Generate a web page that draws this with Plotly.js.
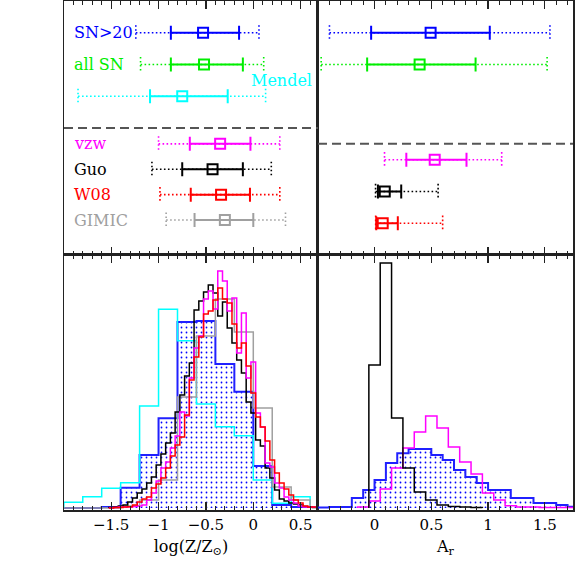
<!DOCTYPE html>
<html>
<head>
<meta charset="utf-8">
<script src="https://cdn.plot.ly/plotly-3.0.1.min.js"></script>
<style>
  html, body { margin: 0; padding: 0; background: #fff; }
  #chart { width: 575px; height: 575px; }
</style>
</head>
<body>
<div id="chart"></div>
<script>
// Data

// Top-left: metallicity summaries (median, 68% and 95% ranges)
const zLabels = ["SN>20", "all SN", "Mendel", "vzw", "Guo", "W08", "GIMIC"];
const zColors = ["#0000ff", "#00ee00", "#00ffff", "#ff00ff", "#000000", "#ff0000", "#a0a0a0"];
const zRows = [1, 2, 3, 4.5, 5.3, 6.1, 6.9];
const zMedian = [-0.53, -0.52, -0.75, -0.35, -0.43, -0.34, -0.3];
const zLo68 = [-0.87, -0.87, -1.09, -0.67, -0.75, -0.66, -0.62];
const zHi68 = [-0.15, -0.11, -0.27, -0.03, -0.11, -0.035, 0.0];
const zLo95 = [-1.24, -1.19, -1.85, -1.0, -1.07, -0.985, -0.92];
const zHi95 = [0.06, 0.11, 0.13, 0.28, 0.19, 0.28, 0.34];
const zSplitRow = 4;

// Top-right: A_r summaries
const aColors = ["#0000ff", "#00ee00", "#ff00ff", "#000000", "#ff0000"];
const aRows = [1, 2, 5, 6, 7];
const aMedian = [0.494, 0.397, 0.53, 0.09, 0.072];
const aLo68 = [-0.03, -0.065, 0.28, 0.03, 0.015];
const aHi68 = [1.015, 0.89, 0.81, 0.235, 0.205];
const aLo95 = [-0.397, -0.47, 0.088, 0.009, 0.01];
const aHi95 = [1.545, 1.52, 1.12, 0.56, 0.6];
const aSplitRow = 4.5;

// Bottom-left: metallicity histograms
const zWideCenters = [-1.9, -1.7, -1.5, -1.3, -1.1, -0.9, -0.7, -0.5, -0.3, -0.1, 0.1, 0.3, 0.5];
const zMendelHist = [5.7, 11.3, 19.7, 25.3, 102, 198.7, 167.3, 104, 81.3, 72.3, 28, 4.7, 11.3];
const zSNHist = [0, 0, 1, 20.3, 53, 89.7, 186, 187, 144, 116.3, 42, 3, 1];
const zGimicHist = [0, 0, 0, 2, 8, 28, 111, 172, 209, 176, 100, 21, 8];
const zWideBin = 0.2;

const zFineCenters = [
  -1.5, -1.45, -1.4, -1.35, -1.3, -1.25, -1.2, -1.15, -1.1, -1.05,
  -1.0, -0.95, -0.9, -0.85, -0.8, -0.75, -0.7, -0.65, -0.6, -0.55,
  -0.5, -0.45, -0.4, -0.35, -0.3, -0.25, -0.2, -0.15, -0.1, -0.05,
  0.0, 0.05, 0.1, 0.15, 0.2, 0.25, 0.3, 0.35, 0.4, 0.45,
  0.5, 0.55, 0.6, 0.65,
];
const zGuoHist = [
  0.5, 1, 2, 3, 6, 10, 15, 19, 25, 31,
  43, 54, 65, 75, 96, 113, 132, 145, 198, 207,
  216, 223, 215, 192, 206, 180, 165, 148, 135, 106,
  95, 68, 62, 40, 30, 18, 9, 7, 5, 4,
  3, 1.5, 1, 0.5,
];
const zW08Hist = [
  0, 0.5, 0.5, 1, 1.3, 3, 6, 9, 11, 20,
  24, 30, 40, 52, 63, 71, 93, 128, 151, 171,
  194, 197, 208, 220, 209, 205, 184, 160, 165, 142,
  115, 91, 81, 67, 48, 35, 25, 19, 13, 8,
  5, 2, 1, 1,
];
const zVzwHist = [
  0, 0.5, 1, 1, 1, 1.5, 2, 3, 8, 15,
  27, 40, 46, 60, 72, 96, 92, 130, 160, 172,
  209, 217, 199, 237, 227, 197, 210, 155, 195, 130,
  146, 95, 81, 45, 41, 25, 20, 11, 8, 5,
  2, 1, 1, 1,
];
const zFineBin = 0.05;

// Bottom-right: A_r histograms
const aSNCenters = [
  -0.45, -0.35, -0.25, -0.15, -0.05, 0.05, 0.15, 0.25, 0.35, 0.45, 0.55, 0.65,
  0.75, 0.85, 0.95, 1.05, 1.15, 1.25, 1.35, 1.45, 1.55, 1.65, 1.75,
];
const aSNHist = [0.5, 1, 1, 10, 18, 28, 45, 54.7, 59, 59, 53, 48, 38, 31, 25, 18, 18, 10, 10, 5, 5, 3, 1.3];
const aGuoCenters = [0, 0.1, 0.2, 0.3, 0.4, 0.5, 0.6, 0.7, 0.8, 0.9];
const aGuoHist = [143, 245, 90, 40, 16, 8, 3, 1.5, 1, 0.5];
const aVzwCenters = [-0.1, 0, 0.1, 0.2, 0.3, 0.4, 0.5, 0.6, 0.7, 0.8, 0.9, 1.0, 1.1, 1.2, 1.3, 1.4, 1.5, 1.6, 1.7];
const aVzwHist = [1, 7, 19, 40, 60, 76, 92, 80, 61, 46, 34, 15, 8, 2.3, 1, 1, 0.5, 0.5, 0.5];
const aBin = 0.1;

// Styles

const FONT = "DejaVu Serif";
const FRAME = "#222";

// Helpers

// Turn bin centres + heights into a closed step outline
const stepXY = function (centers, vals, binWidth) {
  const x = [];
  const y = [];
  centers.forEach((c, i) => {
    const left = c - binWidth / 2;
    if (i === 0) {
      x.push(left);
      y.push(0);
    }
    x.push(left);
    y.push(vals[i]);
  });
  x.push(centers[centers.length - 1] + binWidth / 2);
  y.push(0);
  return { x, y };
};

const histTrace = function (centers, vals, binWidth, color, xa, ya, filled) {
  const s = stepXY(centers, vals, binWidth);
  const trace = {
    x: s.x,
    y: s.y,
    xaxis: xa,
    yaxis: ya,
    mode: "lines",
    line: { shape: "hv", color: color, width: filled ? 2 : 1.5 },
    hoverinfo: "skip",
  };
  if (filled) {
    trace.fill = "tozeroy";
    trace.fillcolor = "rgba(0,0,0,0)";
    trace.fillpattern = {
      shape: ".",
      fgcolor: "#0000ff",
      bgcolor: "#ffffff",
      size: 5,
      solidity: 0.1,
    };
  }
  return trace;
};

// Dotted 95% range with dotted end caps
const outerTrace = function (lo, hi, row, color, xa, ya) {
  const cap = 0.24;
  return {
    x: [lo, lo, null, lo, hi, null, hi, hi],
    y: [row - cap, row + cap, null, row, row, null, row - cap, row + cap],
    xaxis: xa,
    yaxis: ya,
    mode: "lines",
    line: { color: color, width: 1.6, dash: "1.6px,2.4px" },
    hoverinfo: "skip",
  };
};

// Median square with solid 68% bar
const innerTrace = function (med, lo, hi, row, color, xa, ya) {
  return {
    x: [med],
    y: [row],
    xaxis: xa,
    yaxis: ya,
    mode: "markers",
    marker: { symbol: "square-open", size: 10, color: color, line: { width: 2, color: color } },
    error_x: {
      type: "data",
      symmetric: false,
      array: [hi - med],
      arrayminus: [med - lo],
      color: color,
      thickness: 2,
      width: 7,
    },
    hoverinfo: "skip",
  };
};

// Traces

const traces = [];

// Bottom-left histograms
traces.push(histTrace(zWideCenters, zSNHist, zWideBin, "#2020ff", "x", "y", true));
traces.push(histTrace(zWideCenters, zMendelHist, zWideBin, "#00ffff", "x", "y", false));
traces.push(histTrace(zWideCenters, zGimicHist, zWideBin, "#a0a0a0", "x", "y", false));
traces.push(histTrace(zFineCenters, zGuoHist, zFineBin, "#000000", "x", "y", false));
traces.push(histTrace(zFineCenters, zVzwHist, zFineBin, "#ff00ff", "x", "y", false));
traces.push(histTrace(zFineCenters, zW08Hist, zFineBin, "#ff0000", "x", "y", false));

// Bottom-right histograms
traces.push(histTrace(aSNCenters, aSNHist, aBin, "#2020ff", "x2", "y2", true));
traces.push(histTrace(aVzwCenters, aVzwHist, aBin, "#ff00ff", "x2", "y2", false));
traces.push(histTrace(aGuoCenters, aGuoHist, aBin, "#000000", "x2", "y2", false));

// Top-left summaries
zRows.forEach((row, i) => {
  traces.push(outerTrace(zLo95[i], zHi95[i], row, zColors[i], "x3", "y3"));
  traces.push(innerTrace(zMedian[i], zLo68[i], zHi68[i], row, zColors[i], "x3", "y3"));
});

// Top-right summaries
aRows.forEach((row, i) => {
  traces.push(outerTrace(aLo95[i], aHi95[i], row, aColors[i], "x4", "y4"));
  traces.push(innerTrace(aMedian[i], aLo68[i], aHi68[i], row, aColors[i], "x4", "y4"));
});

// Layout

const xAxis = function (range, domain, anchor, showLabels, title) {
  const axis = {
    range: range,
    domain: domain,
    anchor: anchor,
    showline: true,
    linecolor: FRAME,
    linewidth: 1.5,
    mirror: "ticks",
    ticks: "inside",
    ticklen: 8,
    tickwidth: 1.2,
    tickcolor: FRAME,
    tickmode: "linear",
    tick0: 0,
    dtick: 0.5,
    minor: { tick0: 0, dtick: 0.1, ticks: "inside", ticklen: 4, tickwidth: 1, tickcolor: FRAME },
    showticklabels: showLabels,
    tickfont: { family: FONT, size: 15, color: "#000" },
    zeroline: false,
    showgrid: false,
  };
  if (title) {
    axis.title = { text: title, font: { family: FONT, size: 16, color: "#000" }, standoff: 8 };
  }
  return axis;
};

const yAxis = function (range, domain, anchor) {
  return {
    range: range,
    domain: domain,
    anchor: anchor,
    showline: true,
    linecolor: FRAME,
    linewidth: 1.5,
    mirror: true,
    ticks: "",
    showticklabels: false,
    zeroline: false,
    showgrid: false,
  };
};

const leftDom = [0, 0.499];
const rightDom = [0.499, 1];
const lowDom = [0, 0.501];
const highDom = [0.501, 1];
const zRange = [-1.998, 0.683];
const aRange = [-0.498, 1.748];
const histRange = [-2, 253];
const rowRange = [8, 0];

const annotations = zLabels.map((label, i) => {
  if (label === "Mendel") {
    return {
      xref: "x3", yref: "y3", x: 0.645, y: zRows[i] - 0.5,
      xanchor: "right", yanchor: "middle", showarrow: false, text: label,
      font: { family: FONT, size: 16, color: zColors[i] },
    };
  }
  return {
    xref: "x3", yref: "y3", x: -1.91, y: zRows[i],
    xanchor: "left", yanchor: "middle", showarrow: false, text: label,
    font: { family: FONT, size: 16, color: zColors[i] },
  };
});

const layout = {
  width: 575,
  height: 575,
  margin: { l: 64, r: 2, t: 1, b: 65 },
  paper_bgcolor: "#fff",
  plot_bgcolor: "#fff",
  showlegend: false,
  xaxis: xAxis(zRange, leftDom, "y", true, "log(Z/Z<sub>⊙</sub>)"),
  yaxis: yAxis(histRange, lowDom, "x"),
  xaxis2: xAxis(aRange, rightDom, "y2", true, "A<sub>r</sub>"),
  yaxis2: yAxis(histRange, lowDom, "x2"),
  xaxis3: xAxis(zRange, leftDom, "y3", false, null),
  yaxis3: yAxis(rowRange, highDom, "x3"),
  xaxis4: xAxis(aRange, rightDom, "y4", false, null),
  yaxis4: yAxis(rowRange, highDom, "x4"),
  shapes: [
    {
      type: "line", xref: "x3 domain", yref: "y3", x0: 0, x1: 1, y0: zSplitRow, y1: zSplitRow,
      line: { color: "#555", width: 2, dash: "9px,5px" },
    },
    {
      type: "line", xref: "x4 domain", yref: "y4", x0: 0, x1: 1, y0: aSplitRow, y1: aSplitRow,
      line: { color: "#555", width: 2, dash: "9px,5px" },
    },
  ],
  annotations: annotations,
};

Plotly.newPlot("chart", traces, layout, { displayModeBar: false, staticPlot: true });
</script>
</body>
</html>
